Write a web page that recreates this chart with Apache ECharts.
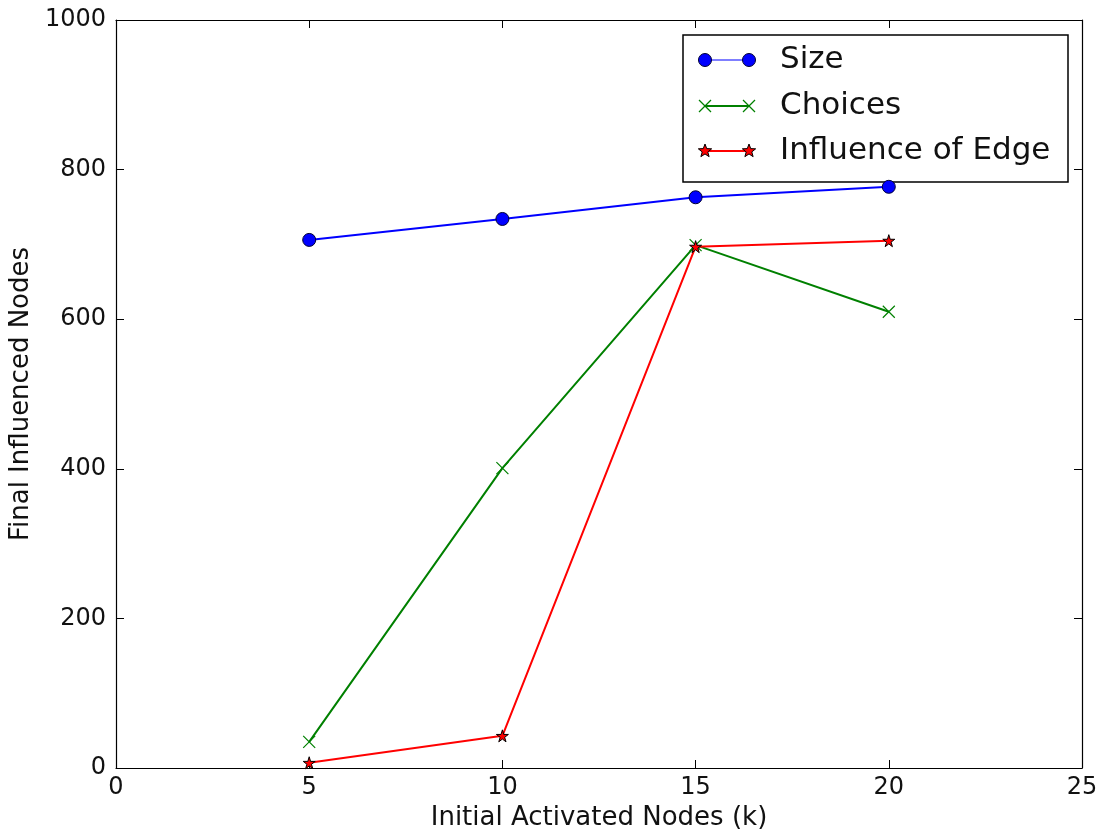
<!DOCTYPE html>
<html><head><meta charset="utf-8">
<script src="https://cdn.jsdelivr.net/npm/echarts@6/dist/echarts.min.js"></script>
<style>html,body{margin:0;padding:0;background:#fff}#c{width:1098px;height:829px}</style>
</head><body><div id="c"></div>
<script>
const xValues = [5, 10, 15, 20];
const sizeValues = [706, 734, 763, 777];
const choicesValues = [35, 401, 699, 610];
const edgeValues = [7, 43, 697, 705];
const seriesNames = ['Size', 'Choices', 'Influence of Edge'];
const seriesColors = ['#0000ff', '#008000', '#ff0000'];

const FONT = 'DejaVu Sans';
const STAR = 'path://M50,0 L61,35 L98,35 L68,57 L79,91 L50,70 L21,91 L32,57 L2,35 L39,35 Z';
const XMARK = 'path://M0,0 L10,10 M10,0 L0,10';

function pairs(vals){ return xValues.map((x,i)=>[x, vals[i]]); }
function starPoints(cx, cy, r){
  const pts=[];
  for(let i=0;i<10;i++){
    const a = -Math.PI/2 + i*Math.PI/5;
    const rr = i%2===0 ? r : r*0.42;
    pts.push([cx+rr*Math.cos(a), cy+rr*Math.sin(a)]);
  }
  return pts;
}

// Legend drawn as graphic (matplotlib style: line with a marker at each end)
const LG = {left:683, top:35, width:385, height:147, x1:705, x2:749, tx:780, rows:[60,106,151]};
function legendMarker(i, cx, cy){
  if(i===0) return {type:'circle', shape:{cx:cx, cy:cy, r:6.5}, style:{fill:seriesColors[0], stroke:'#000033', lineWidth:1}};
  if(i===1) return {type:'group', children:[
    {type:'line', shape:{x1:cx-6,y1:cy-6,x2:cx+6,y2:cy+6}, style:{stroke:seriesColors[1], lineWidth:1.3}},
    {type:'line', shape:{x1:cx-6,y1:cy+6,x2:cx+6,y2:cy-6}, style:{stroke:seriesColors[1], lineWidth:1.3}}]};
  return {type:'polygon', shape:{points:starPoints(cx, cy, 7)}, style:{fill:seriesColors[2], stroke:'#000', lineWidth:1}};
}
const legendChildren = [
  {type:'rect', shape:{x:LG.left, y:LG.top, width:LG.width, height:LG.height}, style:{fill:'#fff', stroke:'#000', lineWidth:1.5}}
];
seriesNames.forEach((name,i)=>{
  const cy = LG.rows[i];
  legendChildren.push({type:'line', shape:{x1:LG.x1, y1:cy, x2:LG.x2, y2:cy}, style:{stroke:seriesColors[i], lineWidth:i===0?1.2:2}});
  legendChildren.push(legendMarker(i, LG.x1, cy));
  legendChildren.push(legendMarker(i, LG.x2, cy));
  legendChildren.push({type:'text', x:LG.tx, y:cy, style:{text:name, fontFamily:FONT, fontSize:31, fill:'#111', verticalAlign:'middle', align:'left'}});
});

const chart = echarts.init(document.getElementById('c'), null, {renderer:'canvas'});
const axisCommon = {
  axisLine:{show:true, onZero:false, lineStyle:{color:'#000', width:1.2}},
  axisTick:{show:true, inside:true, length:8, lineStyle:{color:'#000', width:1}},
  splitLine:{show:false}
};
chart.setOption({
  animation:false,
  backgroundColor:'#fff',
  textStyle:{fontFamily:FONT},
  grid:{left:116, right:16, top:20, bottom:61, containLabel:false, outerBoundsMode:'none'},
  xAxis:[
    Object.assign({type:'value', min:0, max:25, interval:5, position:'bottom',
      name:'Initial Activated Nodes (k)', nameLocation:'middle', nameGap:29,
      nameTextStyle:{fontFamily:FONT, fontSize:26, color:'#111'},
      axisLabel:{fontFamily:FONT, fontSize:24, color:'#111', margin:8, formatter:v=>String(v)}}, axisCommon),
    Object.assign({type:'value', min:0, max:25, interval:5, position:'top',
      axisLabel:{show:false}}, axisCommon)
  ],
  yAxis:[
    Object.assign({type:'value', min:0, max:1000, interval:200, position:'left',
      name:'Final Influenced Nodes', nameLocation:'middle', nameGap:80, nameRotate:90,
      nameTextStyle:{fontFamily:FONT, fontSize:26, color:'#111'},
      axisLabel:{fontFamily:FONT, fontSize:24, color:'#111', margin:10, formatter:v=>String(v)}}, axisCommon),
    Object.assign({type:'value', min:0, max:1000, interval:200, position:'right',
      axisLabel:{show:false}}, axisCommon)
  ],
  graphic:[{type:'group', z:100, children:legendChildren}],
  series:[
    {name:seriesNames[0], type:'line', data:pairs(sizeValues), symbol:'circle', symbolSize:13,
      lineStyle:{color:seriesColors[0], width:2}, itemStyle:{color:seriesColors[0], borderColor:'#000033', borderWidth:1}, z:3},
    {name:seriesNames[1], type:'line', data:pairs(choicesValues), symbol:XMARK, symbolSize:12,
      lineStyle:{color:seriesColors[1], width:2}, itemStyle:{color:seriesColors[1], borderColor:seriesColors[1], borderWidth:1.2}, z:2},
    {name:seriesNames[2], type:'line', data:pairs(edgeValues), symbol:STAR, symbolSize:12,
      lineStyle:{color:seriesColors[2], width:2}, itemStyle:{color:seriesColors[2], borderColor:'#000', borderWidth:1}, z:4}
  ]
});
</script></body></html>
